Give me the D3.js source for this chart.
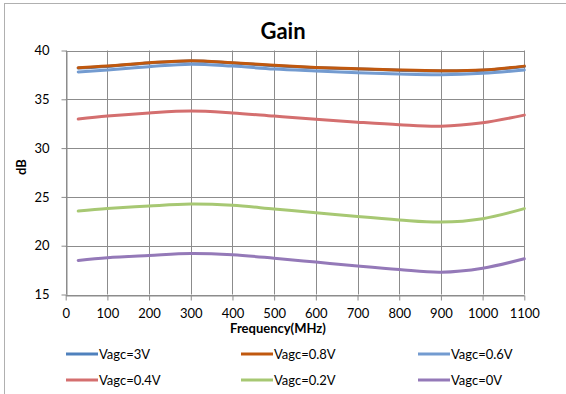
<!DOCTYPE html>
<html>
<head>
<meta charset="utf-8">
<script src="https://cdn.jsdelivr.net/npm/d3@7/dist/d3.min.js"></script>
<style>
  html, body { margin: 0; padding: 0; background: #fff; }
  svg { display: block; font-family: Lato, "Open Sans", sans-serif; }
</style>
</head>
<body>
<svg id="chart" width="566" height="394"></svg>
<script>
// Frequency points (MHz)
const freqs = [30, 100, 200, 300, 400, 500, 600, 700, 800, 900, 1000, 1100];

// Gain (dB) per AGC control voltage
const gain3V  = [38.20, 38.36, 38.72, 38.93, 38.72, 38.44, 38.24, 38.10, 37.97, 37.90, 37.97, 38.36];
const gain08V = [38.24, 38.40, 38.75, 38.96, 38.75, 38.48, 38.27, 38.13, 38.00, 37.93, 38.00, 38.40];
const gain06V = [37.80, 38.00, 38.34, 38.60, 38.40, 38.10, 37.90, 37.72, 37.59, 37.52, 37.66, 38.00];
const gain04V = [32.97, 33.28, 33.60, 33.79, 33.60, 33.28, 32.96, 32.66, 32.40, 32.25, 32.60, 33.38];
const gain02V = [23.55, 23.80, 24.07, 24.27, 24.14, 23.76, 23.38, 22.98, 22.64, 22.42, 22.77, 23.80];
const gain0V  = [18.49, 18.77, 19.00, 19.20, 19.07, 18.72, 18.32, 17.92, 17.56, 17.29, 17.70, 18.66];

const seriesNames = ["Vagc=3V", "Vagc=0.8V", "Vagc=0.6V", "Vagc=0.4V", "Vagc=0.2V", "Vagc=0V"];
const seriesValues = [gain3V, gain08V, gain06V, gain04V, gain02V, gain0V];
const seriesColors = ["#4F81BD", "#C0580E", "#739BD0", "#D46F6F", "#A7C873", "#9479B8"];

const xTicks = [0, 100, 200, 300, 400, 500, 600, 700, 800, 900, 1000, 1100];
const yTicks = [15, 20, 25, 30, 35, 40];

const svg = d3.select("#chart");

// outer chart frame
svg.append("rect")
  .attr("x", 4.5).attr("y", 3.5)
  .attr("width", 600).attr("height", 420)
  .attr("fill", "none").attr("stroke", "#b0b0b0").attr("stroke-width", 1);

const plot = { left: 65.7, right: 524.3, top: 50.5, bottom: 294.5 };

const x = d3.scaleLinear().domain([0, 1100]).range([plot.left, plot.right]);
const y = d3.scaleLinear().domain([15, 40]).range([plot.bottom, plot.top]);

// gridlines
const grid = svg.append("g").attr("stroke", "#8c8c8c").attr("stroke-width", 1);
grid.selectAll("line.v").data(xTicks).join("line")
  .attr("x1", d => Math.round(x(d)) + 0.5).attr("x2", d => Math.round(x(d)) + 0.5)
  .attr("y1", plot.top).attr("y2", plot.bottom);
grid.selectAll("line.h").data(yTicks).join("line")
  .attr("x1", plot.left).attr("x2", plot.right)
  .attr("y1", d => Math.round(y(d)) + 0.5).attr("y2", d => Math.round(y(d)) + 0.5);

// axes
const xAxis = svg.append("g")
  .attr("transform", `translate(0,${Math.round(y(15)) + 0.5})`)
  .call(d3.axisBottom(x).tickValues(xTicks).tickFormat(d3.format("d"))
    .tickSize(5).tickPadding(5).tickSizeOuter(0));
const yAxis = svg.append("g")
  .attr("transform", `translate(${Math.round(x(0)) + 0.5},0)`)
  .call(d3.axisLeft(y).tickValues(yTicks).tickFormat(d3.format("d"))
    .tickSize(5).tickPadding(12).tickSizeOuter(0));
[xAxis, yAxis].forEach(a => {
  a.selectAll("path, line").attr("stroke", "#8c8c8c");
  a.selectAll("text").attr("font-size", 13).attr("fill", "#000")
    .attr("font-family", "Lato, 'Open Sans', sans-serif");
});
xAxis.selectAll("text").attr("dy", "0.95em");

// curves
const line = d3.line()
  .x((d, i) => x(freqs[i]))
  .y(d => y(d))
  .curve(d3.curveCatmullRom.alpha(0.5));

svg.append("g").selectAll("path").data(seriesValues).join("path")
  .attr("d", d => line(d))
  .attr("fill", "none")
  .attr("stroke", (d, i) => seriesColors[i])
  .attr("stroke-width", 3)
  .attr("stroke-linecap", "round")
  .attr("stroke-linejoin", "round");

// titles
svg.append("text").attr("x", 283).attr("y", 39)
  .attr("text-anchor", "middle").attr("font-size", 22).attr("font-weight", "bold")
  .text("Gain");
svg.append("text").attr("x", 278).attr("y", 333)
  .attr("text-anchor", "middle").attr("font-size", 13).attr("font-weight", "bold")
  .text("Frequency(MHz)");
svg.append("text")
  .attr("transform", "translate(26,167) rotate(-90)")
  .attr("text-anchor", "middle").attr("font-size", 13).attr("font-weight", "bold")
  .text("dB");

// legend: three columns, two rows
const legendCols = [66, 241, 418];
const legendRows = [354, 380];
const legend = svg.append("g").selectAll("g").data(seriesNames).join("g")
  .attr("transform", (d, i) => `translate(${legendCols[i % 3]},${legendRows[Math.floor(i / 3)]})`);
legend.append("line")
  .attr("x1", 0).attr("x2", 32).attr("y1", 0).attr("y2", 0)
  .attr("stroke", (d, i) => seriesColors[i]).attr("stroke-width", 3);
legend.append("text")
  .attr("x", 33).attr("y", 0).attr("dy", "0.35em")
  .attr("font-size", 13)
  .text(d => d);
</script>
</body>
</html>
